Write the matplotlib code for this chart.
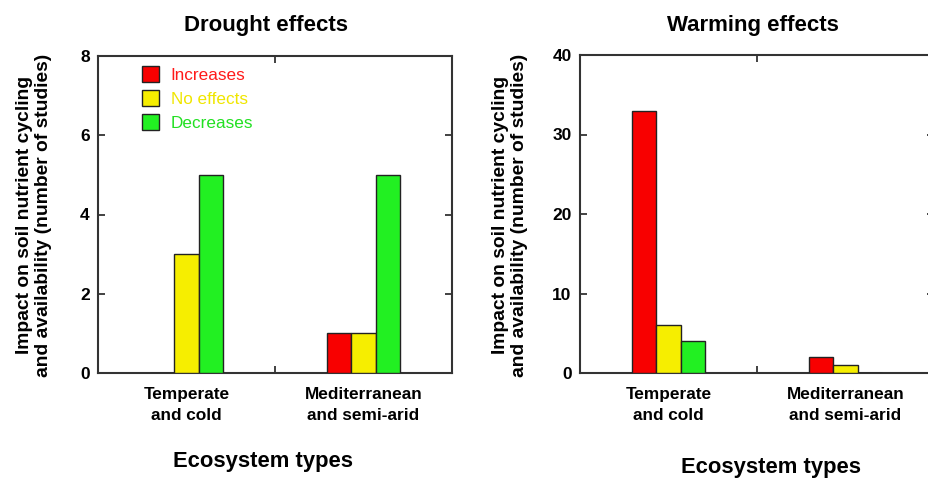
import matplotlib
matplotlib.use("Agg")
import matplotlib.pyplot as plt
from matplotlib.patches import Patch
import numpy as np

plt.rcParams['font.family'] = ['Liberation Sans', 'DejaVu Sans']

categories = ["Temperate\nand cold", "Mediterranean\nand semi-arid"]
series = ["Increases", "No effects", "Decreases"]
drought_increases = [0, 1]
drought_no_effects = [3, 1]
drought_decreases = [5, 5]
warming_increases = [33, 2]
warming_no_effects = [6, 1]
warming_decreases = [4, 0]
drought_yticks = [0, 2, 4, 6, 8]
warming_yticks = [0, 10, 20, 30, 40]

colors = ["#f80000", "#f6ee00", "#22f022"]
text_colors = ["#ff1a1a", "#f0e600", "#22e022"]

W, H = 929, 478
fig = plt.figure(figsize=(W/100, H/100), dpi=100)
ax1 = fig.add_axes([98/W, 1-373/H, 354/W, 317/H])
ax2 = fig.add_axes([580/W, 1-373/H, 354/W, 318/H])

ylabel = "Impact on soil nutrient cycling\nand availability (number of studies)"

def draw(ax, data, yticks, title, title_xy, xlabel_xy, ylabel_x):
    x = np.array([0.5, 1.5])
    w = 0.136
    for i, vals in enumerate(data):
        ax.bar(x + (i - 1) * w, vals, width=w, color=colors[i],
               edgecolor="#222222", linewidth=1.0, zorder=3)
    ax.set_xlim(0, 2)
    ax.set_ylim(yticks[0], yticks[-1])
    ax.set_yticks(yticks)
    ax.set_yticklabels([str(t) for t in yticks], fontsize=12.5, fontweight="bold")
    ax.set_xticks([1])
    ax.set_xticklabels([""])
    ax.tick_params(axis="both", direction="in", length=5, width=1.3,
                   top=True, right=True, color="#333333", pad=6)
    for s in ax.spines.values():
        s.set_linewidth(1.5)
        s.set_color("#333333")
    for xi, lab in zip(x, categories):
        ax.text(xi, -0.045, lab, transform=ax.get_xaxis_transform(),
                ha="center", va="top", fontsize=12.4, fontweight="bold",
                linespacing=1.45)
    fig.text(title_xy[0]/W, 1-title_xy[1]/H, title, ha="center", va="center",
             fontsize=16, fontweight="bold")
    fig.text(xlabel_xy[0]/W, 1-xlabel_xy[1]/H, "Ecosystem types", ha="center",
             va="center", fontsize=15.8, fontweight="bold")
    fig.text(ylabel_x/W, 1-215/H, ylabel, rotation=90, ha="center",
             va="center", fontsize=13.9, fontweight="bold", linespacing=1.2)

draw(ax1, [drought_increases, drought_no_effects, drought_decreases],
     drought_yticks, "Drought effects", (266, 25), (263, 462), 34)
draw(ax2, [warming_increases, warming_no_effects, warming_decreases],
     warming_yticks, "Warming effects", (753, 25), (771, 467), 510)

handles = [Patch(facecolor=c, edgecolor="#222222", linewidth=1.0) for c in colors]
leg = ax1.legend(handles, series, loc="upper left", bbox_to_anchor=(0.08, 1.018),
                 frameon=False, fontsize=12.3, handlelength=1.0, handleheight=1.1,
                 handletextpad=0.7, labelspacing=0.42)
for t, c in zip(leg.get_texts(), text_colors):
    t.set_color(c)

fig.savefig("out.png", dpi=100)
